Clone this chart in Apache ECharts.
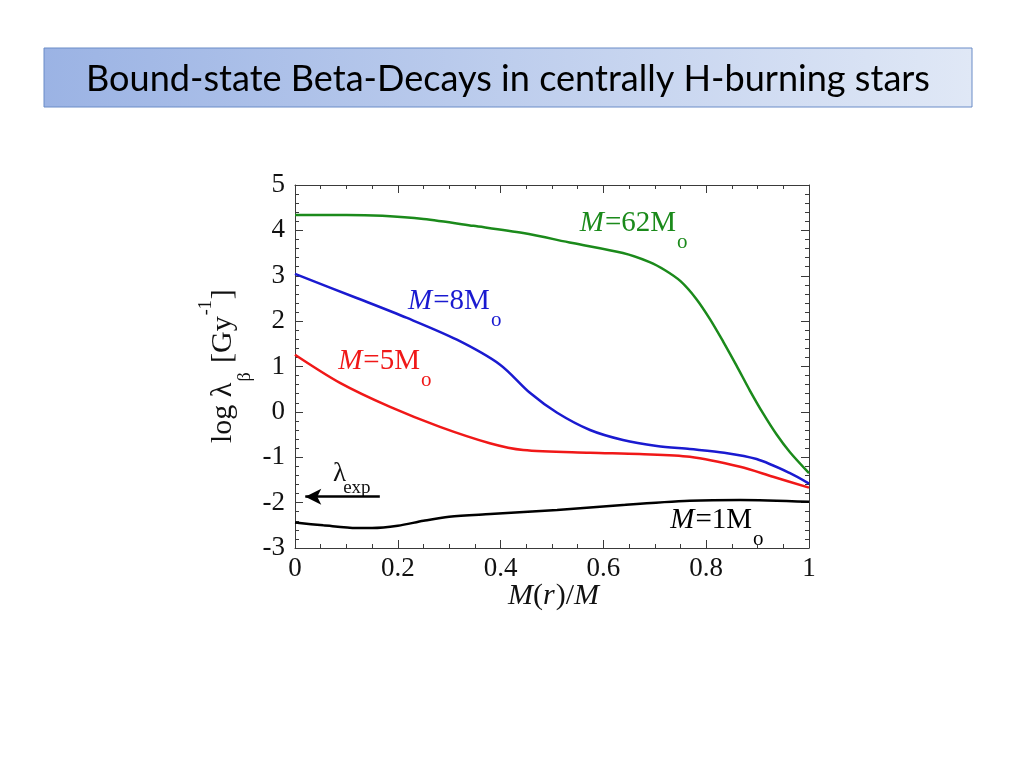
<!DOCTYPE html>
<html>
<head>
<meta charset="utf-8">
<script src="https://cdn.jsdelivr.net/npm/echarts@6/dist/echarts.min.js"></script>
<style>
    html, body { margin: 0; padding: 0; background: #fff; }
    #chart01 { width: 1024px; height: 768px; }
</style>
</head>
<body>
<div id="chart01"></div>
<script>
var titleText = 'Bound-state Beta-Decays in centrally H-burning stars';

// M(r)/M and log lambda, one pair of arrays per star mass
var mrGreen  = [0, 0.1, 0.17, 0.25, 0.347, 0.444, 0.54, 0.638, 0.69, 0.72, 0.75, 0.78, 0.807, 0.833, 0.859, 0.885, 0.911, 0.937, 0.963, 1.0];
var logGreen = [4.34, 4.34, 4.32, 4.25, 4.10, 3.94, 3.72, 3.50, 3.30, 3.12, 2.88, 2.50, 2.05, 1.55, 1.02, 0.47, -0.04, -0.50, -0.89, -1.35];

var mrBlue  = [0, 0.12, 0.218, 0.315, 0.399, 0.457, 0.51, 0.574, 0.638, 0.704, 0.768, 0.835, 0.898, 0.963, 1.0];
var logBlue = [3.04, 2.51, 2.07, 1.59, 1.04, 0.42, -0.02, -0.40, -0.62, -0.75, -0.82, -0.90, -1.04, -1.35, -1.58];

var mrRed  = [0, 0.0875, 0.185, 0.282, 0.379, 0.444, 0.574, 0.67, 0.768, 0.866, 0.93, 1.0];
var logRed = [1.26, 0.64, 0.11, -0.33, -0.69, -0.84, -0.90, -0.93, -0.99, -1.21, -1.43, -1.67];

var mrBlack  = [0, 0.055, 0.12, 0.15, 0.2, 0.25, 0.3, 0.38, 0.51, 0.638, 0.768, 0.866, 1.0];
var logBlack = [-2.44, -2.50, -2.56, -2.56, -2.51, -2.40, -2.31, -2.25, -2.16, -2.05, -1.96, -1.94, -1.98];

// lambda_exp arrow, from -> to
var arrowFrom = [0.165, -1.87];
var arrowTo   = [0.02, -1.87];

// curve labels: [mass text, colour, M(r)/M, log lambda] at left edge of label
var curveLabels = [
    ['62', '#1b8a1b', 0.554, 4.16],
    ['8',  '#1a1ad0', 0.220, 2.44],
    ['5',  '#f01818', 0.084, 1.12],
    ['1',  '#000000', 0.730, -2.40]
];

function pairs(xs, ys) {
    return xs.map(function (x, i) { return [x, ys[i]]; });
}

var serif = 'Liberation Serif';
var ctx = document.createElement('canvas').getContext('2d');

function textWidth(t, size, italic, family) {
    ctx.font = (italic ? 'italic ' : '') + size + 'px ' + (family || serif);
    return ctx.measureText(t).width;
}

// parts: [text, size, italic, dy, extraGap]
function textRun(parts, color) {
    var cx = 0, kids = [];
    parts.forEach(function (p) {
        kids.push({
            type: 'text', x: cx, y: p[3] || 0,
            style: {
                text: p[0], fontSize: p[1], fontStyle: p[2] ? 'italic' : 'normal',
                fontFamily: serif, fill: color,
                align: 'left', verticalAlign: 'middle',
                textAlign: 'left', textVerticalAlign: 'middle'
            }
        });
        cx += textWidth(p[0], p[1], p[2]) + (p[4] || 0);
    });
    return kids;
}

function lineSeries(name, color, xs, ys) {
    return {
        name: name,
        type: 'line',
        data: pairs(xs, ys),
        smooth: 0.3,
        showSymbol: false,
        symbol: 'none',
        lineStyle: { color: color, width: 2.5 },
        z: 3
    };
}

function chart01(id) {
    var myChart = echarts.init(document.getElementById(id));

    var frame = { show: true, onZero: false, lineStyle: { color: '#3a3a3a', width: 1 } };
    var tick = { show: true, inside: true, length: 8, lineStyle: { color: '#3a3a3a' } };

    var xBase = {
        type: 'value', min: 0, max: 1, interval: 0.2,
        axisLine: frame, axisTick: tick,
        minorTick: { show: true, splitNumber: 4, length: 4, lineStyle: { color: '#3a3a3a' } },
        splitLine: { show: false }
    };
    var yBase = {
        type: 'value', min: -3, max: 5, interval: 1,
        axisLine: frame, axisTick: tick,
        minorTick: { show: true, splitNumber: 5, length: 4, lineStyle: { color: '#3a3a3a' } },
        splitLine: { show: false }
    };

    var blackSeries = lineSeries('1Mo', '#000000', mrBlack, logBlack);
    blackSeries.markLine = {
        silent: true,
        symbol: ['none', 'arrow'],
        symbolSize: [12, 16],
        label: { show: false },
        lineStyle: { color: '#000', width: 2.5, type: 'solid' },
        data: [[{ coord: arrowFrom }, { coord: arrowTo }]]
    };

    var option = {
        animation: false,
        backgroundColor: '#fff',
        textStyle: { fontFamily: serif },
        grid: { left: 295, right: 215, top: 185, bottom: 220 },
        xAxis: [
            Object.assign({}, xBase, {
                position: 'bottom',
                axisLabel: { margin: 7, fontSize: 27, fontFamily: serif, color: '#111' }
            }),
            Object.assign({}, xBase, { position: 'top', axisLabel: { show: false } })
        ],
        yAxis: [
            Object.assign({}, yBase, {
                position: 'left',
                axisLabel: { margin: 10, fontSize: 27, fontFamily: serif, color: '#111' }
            }),
            Object.assign({}, yBase, { position: 'right', axisLabel: { show: false } })
        ],
        series: [
            lineSeries('62Mo', '#1b8a1b', mrGreen, logGreen),
            lineSeries('8Mo', '#1a1ad0', mrBlue, logBlue),
            lineSeries('5Mo', '#f01818', mrRed, logRed),
            blackSeries
        ]
    };
    myChart.setOption(option);

    // text on top: title box, axis names, curve labels
    var titleFamily = 'Lato';
    var titleSize = Math.min(40, 36 * 844 / textWidth(titleText, 36, false, titleFamily));

    var graphics = [
        {
            type: 'rect', z: 10,
            shape: { x: 44, y: 48, width: 928, height: 59 },
            style: {
                fill: new echarts.graphic.LinearGradient(0, 0, 1, 0, [
                    { offset: 0, color: '#9bb3e4' },
                    { offset: 1, color: '#e0e8f6' }
                ]),
                stroke: '#6b8cc7', lineWidth: 1
            }
        },
        {
            type: 'text', z: 11, x: 508, y: 79,
            style: {
                text: titleText, fontSize: titleSize, fontFamily: titleFamily, fill: '#000',
                align: 'center', verticalAlign: 'middle', textAlign: 'center', textVerticalAlign: 'middle'
            }
        },
        {
            // y axis name, reads bottom to top
            type: 'group', z: 11, x: 223, y: 443, rotation: Math.PI / 2,
            children: textRun([
                ['log λ', 30, false, 0, 1],
                ['β', 18, false, 22, 2],
                [' [Gy', 30, false, 0, 1],
                ['-1', 18, false, -17, 1],
                [']', 30, false, 0]
            ], '#111')
        },
        {
            type: 'group', z: 11, x: 508, y: 596,
            children: textRun([
                ['M', 30, true, 0],
                ['(', 30, false, 0],
                ['r', 30, true, 0, 1],
                [')/', 30, false, 0],
                ['M', 30, true, 0]
            ], '#111')
        }
    ];

    curveLabels.forEach(function (c) {
        var p = myChart.convertToPixel({ gridIndex: 0 }, [c[2], c[3]]);
        graphics.push({
            type: 'group', z: 11, x: p[0], y: p[1],
            children: textRun([
                ['M', 29, true, 0, 1],
                ['=' + c[0] + 'M', 29, false, 0, 1],
                ['o', 21, false, 19]
            ], c[1])
        });
    });

    var lp = myChart.convertToPixel({ gridIndex: 0 }, [0.074, -1.37]);
    graphics.push({
        type: 'group', z: 11, x: lp[0], y: lp[1],
        children: textRun([
            ['λ', 27, false, 0, -3],
            ['exp', 19, false, 14]
        ], '#111')
    });

    myChart.setOption({ graphic: graphics });
    return myChart;
}

var chartInit01 = chart01('chart01');
window.addEventListener('resize', function () {
    chartInit01.resize();
});
</script>
</body>
</html>
